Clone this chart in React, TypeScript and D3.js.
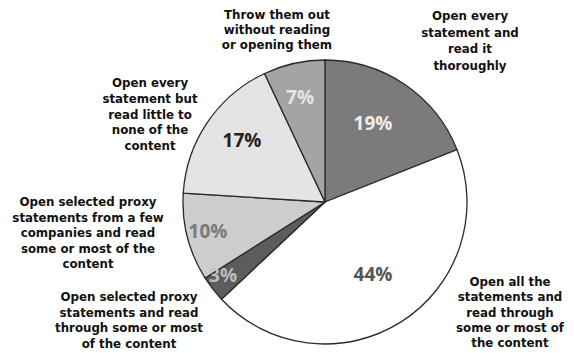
import React from "react";
import * as d3 from "d3";

const categories = [
  "Open every statement and read it thoroughly",
  "Open all the statements and read through some or most of the content",
  "Open selected proxy statements and read through some or most of the content",
  "Open selected proxy statements from a few companies and read some or most of the content",
  "Open every statement but read little to none of the content",
  "Throw them out without reading or opening them",
];
const values = [19, 44, 3, 10, 17, 7];
const sliceColors = ["#7b7b7b", "#ffffff", "#5c5c5c", "#cdcdcd", "#e4e4e4", "#a4a4a4"];
const pctColors = ["#eeeeee", "#555555", "#bdbdbd", "#7a7a7a", "#222222", "#e6e6e6"];
const outerLines = [
  ["Open every", "statement and", "read it", "thoroughly"],
  ["Open all the", "statements and", "read through", "some or most of", "the content"],
  ["Open selected proxy", "statements and read", "through some or most", "of the content"],
  ["Open selected proxy", "statements from a few", "companies and read", "some or most of the", "content"],
  ["Open every", "statement but", "read little to", "none of the", "content"],
  ["Throw them out", "without reading", "or opening them"],
];

const W = 574, H = 353;
const cx = 325, cy = 202, R = 142;
// label placement (layout, not data)
const pctPos: [number, number][] = [[373, 123], [373, 274], [223, 275], [208, 231], [242, 140], [300, 97]];
const outerPos: [number, number, number][] = [
  [470, 16, 16.5], [510, 282, 15.3], [129, 297, 15.5], [88, 202, 15.5], [150, 83, 15.8], [277, 15, 15],
];

export default function App() {
  const pie = d3.pie<number>().sort(null).value((d) => d)(values);
  const arc = d3.arc<d3.PieArcDatum<number>>().innerRadius(0).outerRadius(R);
  const font = "'Open Sans', 'DejaVu Sans', sans-serif";
  const outerFont = "'DejaVu Sans', sans-serif";
  return (
    <svg width={W} height={H} style={{ position: "absolute", left: 0, top: 0, background: "#fff" }}>
      <g transform={`translate(${cx},${cy})`}>
        {pie.map((p, i) => (
          <path key={i} d={arc(p) || ""} fill={sliceColors[i]} stroke="#2a2a2a" strokeWidth={1.3} />
        ))}
      </g>
      {values.map((v, i) => (
        <text key={"p" + i} x={pctPos[i][0]} y={pctPos[i][1]} textAnchor="middle" dominantBaseline="central"
          fontFamily={font} fontWeight={700} fontSize={19} fill={pctColors[i]}>
          {v}%
        </text>
      ))}
      {outerLines.map((lines, i) => (
        <text key={"o" + i} textAnchor="middle" fontFamily={outerFont} fontWeight={700} fontSize={11.8} fill="#111">
          {lines.map((l, j) => (
            <tspan key={j} x={outerPos[i][0]} y={outerPos[i][1] + j * outerPos[i][2]} dominantBaseline="central">
              {l}
            </tspan>
          ))}
        </text>
      ))}
    </svg>
  );
}
